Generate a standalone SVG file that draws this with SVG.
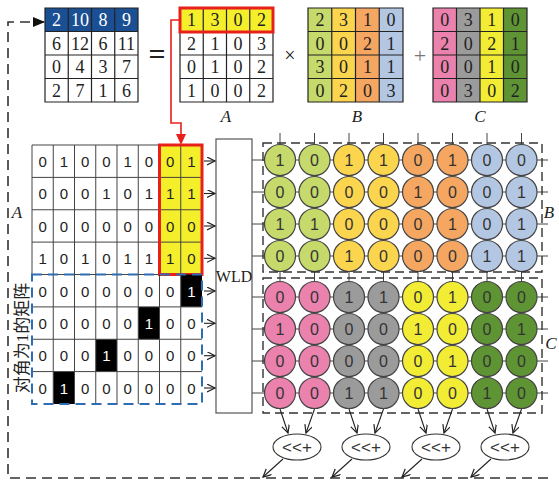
<svg xmlns="http://www.w3.org/2000/svg" width="559" height="484" viewBox="0 0 559 484">
<style>
.cell{fill:none;stroke:#222;stroke-width:1.2}
.ser{font-family:"Liberation Serif","Times New Roman",serif;font-size:18px;fill:#222;text-anchor:middle;dominant-baseline:central}
.lab{font-family:"Liberation Serif","Times New Roman",serif;font-size:17px;font-style:italic;fill:#222;text-anchor:middle;dominant-baseline:central}
.bin{font-family:"Liberation Sans",Arial,sans-serif;font-size:15px;fill:#222;text-anchor:middle;dominant-baseline:central}
.cb{font-family:"Liberation Sans",Arial,sans-serif;font-size:16px;fill:#333;text-anchor:middle;dominant-baseline:central}
.wt{fill:#fff}
.bgrid{fill:none;stroke:#444;stroke-width:1}
.dash{fill:none;stroke:#333;stroke-width:1.6;stroke-dasharray:10 6}
.ln{stroke:#444;stroke-width:1;fill:none}
.arr{stroke:#222;stroke-width:1.1;fill:none;marker-end:url(#open)}
.cir{stroke:#444;stroke-width:1.2}
.g1{fill:#c6d96b}.y1{fill:#fbd54e}.o1{fill:#f5a660}.b1{fill:#b3c7e3}
.p2{fill:#ea82ad}.k2{fill:#9b9b9b}.y2{fill:#f3ec35}.d2{fill:#5f9434}
</style>
<defs>
<marker id="open" markerWidth="10" markerHeight="10" refX="8" refY="4" orient="auto" markerUnits="userSpaceOnUse"><path d="M0,0 L8,4 L0,8" fill="none" stroke="#222" stroke-width="1.2"/></marker>
<marker id="blk" markerWidth="12" markerHeight="10" refX="11" refY="5" orient="auto" markerUnits="userSpaceOnUse"><path d="M0,0 L12,5 L0,10 Z" fill="#111"/></marker>
</defs>
<rect width="559" height="484" fill="#fff"/>

<!-- Result matrix -->
<g id="result">
<rect x="45" y="8" width="93" height="23.5" fill="#1b4f93"/>
<path class="cell" d="M45,8H138V102H45Z M45,31.5H138 M45,55H138 M45,78.5H138 M68.25,8V102 M91.5,8V102 M114.75,8V102"/>
<g class="ser">
<text x="56.6" y="20" class="wt">2</text><text x="79.9" y="20" class="wt">10</text><text x="103.1" y="20" class="wt">8</text><text x="126.4" y="20" class="wt">9</text>
<text x="56.6" y="43.5">6</text><text x="79.9" y="43.5">12</text><text x="103.1" y="43.5">6</text><text x="126.4" y="43.5">11</text>
<text x="56.6" y="67">0</text><text x="79.9" y="67">4</text><text x="103.1" y="67">3</text><text x="126.4" y="67">7</text>
<text x="56.6" y="90.5">2</text><text x="79.9" y="90.5">7</text><text x="103.1" y="90.5">1</text><text x="126.4" y="90.5">6</text>
</g>
</g>
<text class="ser" x="157" y="53" style="font-size:30px;font-weight:bold">=</text>

<!-- Matrix A -->
<g id="matA">
<rect x="180" y="8" width="93" height="24" fill="#f5ee2a"/>
<path class="cell" d="M180,8H273V102H180Z M180,31.5H273 M180,55H273 M180,78.5H273 M203.25,8V102 M226.5,8V102 M249.75,8V102"/>
<rect x="180" y="8" width="93" height="24" fill="none" stroke="#e8201c" stroke-width="3"/>
<g class="ser">
<text x="191.6" y="20">1</text><text x="214.9" y="20">3</text><text x="238.1" y="20">0</text><text x="261.4" y="20">2</text>
<text x="191.6" y="43.5">2</text><text x="214.9" y="43.5">1</text><text x="238.1" y="43.5">0</text><text x="261.4" y="43.5">3</text>
<text x="191.6" y="67">0</text><text x="214.9" y="67">1</text><text x="238.1" y="67">0</text><text x="261.4" y="67">2</text>
<text x="191.6" y="90.5">1</text><text x="214.9" y="90.5">0</text><text x="238.1" y="90.5">0</text><text x="261.4" y="90.5">2</text>
</g>
<text class="lab" x="226" y="116">A</text>
</g>
<text class="ser" x="290" y="55" style="font-size:20px">×</text>

<!-- Matrix B -->
<g id="matB">
<rect x="308" y="8" width="23.75" height="94" class="g1"/>
<rect x="331.75" y="8" width="23.75" height="94" class="y1"/>
<rect x="355.5" y="8" width="23.75" height="94" class="o1"/>
<rect x="379.25" y="8" width="23.75" height="94" class="b1"/>
<path class="cell" d="M308,8H403V102H308Z M308,31.5H403 M308,55H403 M308,78.5H403 M331.75,8V102 M355.5,8V102 M379.25,8V102"/>
<g class="ser">
<text x="319.9" y="20">2</text><text x="343.6" y="20">3</text><text x="367.4" y="20">1</text><text x="391.1" y="20">0</text>
<text x="319.9" y="43.5">0</text><text x="343.6" y="43.5">0</text><text x="367.4" y="43.5">2</text><text x="391.1" y="43.5">1</text>
<text x="319.9" y="67">3</text><text x="343.6" y="67">0</text><text x="367.4" y="67">1</text><text x="391.1" y="67">1</text>
<text x="319.9" y="90.5">0</text><text x="343.6" y="90.5">2</text><text x="367.4" y="90.5">0</text><text x="391.1" y="90.5">3</text>
</g>
<text class="lab" x="357" y="116">B</text>
</g>
<text class="ser" x="420" y="55" style="font-size:22px;fill:#777">+</text>

<!-- Matrix C -->
<g id="matC">
<rect x="433" y="8" width="23.5" height="94" class="p2"/>
<rect x="456.5" y="8" width="23.5" height="94" class="k2"/>
<rect x="480" y="8" width="23.5" height="94" class="y2"/>
<rect x="503.5" y="8" width="23.5" height="94" class="d2"/>
<path class="cell" d="M433,8H527V102H433Z M433,31.5H527 M433,55H527 M433,78.5H527 M456.5,8V102 M480,8V102 M503.5,8V102"/>
<g class="ser">
<text x="444.7" y="20">0</text><text x="468.2" y="20">3</text><text x="491.7" y="20">1</text><text x="515.2" y="20">0</text>
<text x="444.7" y="43.5">2</text><text x="468.2" y="43.5">0</text><text x="491.7" y="43.5">2</text><text x="515.2" y="43.5">1</text>
<text x="444.7" y="67">0</text><text x="468.2" y="67">0</text><text x="491.7" y="67">1</text><text x="515.2" y="67">0</text>
<text x="444.7" y="90.5">0</text><text x="468.2" y="90.5">3</text><text x="491.7" y="90.5">0</text><text x="515.2" y="90.5">2</text>
</g>
<text class="lab" x="480" y="116">C</text>
</g>

<!-- Binary matrix A -->
<g id="binA">
<rect x="159.5" y="145" width="42.5" height="129.5" fill="#f5ee2a"/>
<path class="bgrid" d="M32,145H202V274.5H32Z M32,177.4H202 M32,209.75H202 M32,242.1H202 M53.25,145V274.5 M74.5,145V274.5 M95.75,145V274.5 M117,145V274.5 M138.25,145V274.5 M159.5,145V274.5 M180.75,145V274.5"/>
<g class="bin">
<text x="42.6" y="161">0</text><text x="63.9" y="161">1</text><text x="85.1" y="161">0</text><text x="106.4" y="161">0</text><text x="127.6" y="161">1</text><text x="148.9" y="161">0</text><text x="170.1" y="161">0</text><text x="191.4" y="161">1</text>
<text x="42.6" y="193.5">0</text><text x="63.9" y="193.5">0</text><text x="85.1" y="193.5">0</text><text x="106.4" y="193.5">1</text><text x="127.6" y="193.5">0</text><text x="148.9" y="193.5">1</text><text x="170.1" y="193.5">1</text><text x="191.4" y="193.5">1</text>
<text x="42.6" y="226">0</text><text x="63.9" y="226">0</text><text x="85.1" y="226">0</text><text x="106.4" y="226">0</text><text x="127.6" y="226">0</text><text x="148.9" y="226">0</text><text x="170.1" y="226">0</text><text x="191.4" y="226">0</text>
<text x="42.6" y="258.3">1</text><text x="63.9" y="258.3">0</text><text x="85.1" y="258.3">1</text><text x="106.4" y="258.3">0</text><text x="127.6" y="258.3">1</text><text x="148.9" y="258.3">1</text><text x="170.1" y="258.3">1</text><text x="191.4" y="258.3">0</text>
</g>
<rect x="159.5" y="145" width="42.5" height="129.5" fill="none" stroke="#e8201c" stroke-width="3"/>
<text class="lab" x="17" y="212">A</text>
</g>

<!-- Diagonal matrix -->
<g id="diag">
<rect x="180.75" y="274.5" width="21.25" height="32.4" fill="#000"/>
<rect x="138.25" y="306.9" width="21.25" height="32.35" fill="#000"/>
<rect x="95.75" y="339.25" width="21.25" height="32.35" fill="#000"/>
<rect x="53.25" y="371.6" width="21.25" height="32.4" fill="#000"/>
<path class="bgrid" d="M32,306.9H202 M32,339.25H202 M32,371.6H202 M53.25,274.5V404 M74.5,274.5V404 M95.75,274.5V404 M117,274.5V404 M138.25,274.5V404 M159.5,274.5V404 M180.75,274.5V404"/>
<rect x="32" y="274.5" width="170" height="129.5" fill="none" stroke="#2e6cb4" stroke-width="2" stroke-dasharray="10 6"/>
<g class="bin">
<text x="42.6" y="291">0</text><text x="63.9" y="291">0</text><text x="85.1" y="291">0</text><text x="106.4" y="291">0</text><text x="127.6" y="291">0</text><text x="148.9" y="291">0</text><text x="170.1" y="291">0</text><text x="191.4" y="291" class="wt">1</text>
<text x="42.6" y="323.3">0</text><text x="63.9" y="323.3">0</text><text x="85.1" y="323.3">0</text><text x="106.4" y="323.3">0</text><text x="127.6" y="323.3">0</text><text x="148.9" y="323.3" class="wt">1</text><text x="170.1" y="323.3">0</text><text x="191.4" y="323.3">0</text>
<text x="42.6" y="355.7">0</text><text x="63.9" y="355.7">0</text><text x="85.1" y="355.7">0</text><text x="106.4" y="355.7" class="wt">1</text><text x="127.6" y="355.7">0</text><text x="148.9" y="355.7">0</text><text x="170.1" y="355.7">0</text><text x="191.4" y="355.7">0</text>
<text x="42.6" y="388">0</text><text x="63.9" y="388" class="wt">1</text><text x="85.1" y="388">0</text><text x="106.4" y="388">0</text><text x="127.6" y="388">0</text><text x="148.9" y="388">0</text><text x="170.1" y="388">0</text><text x="191.4" y="388">0</text>
</g>
<text x="22" y="338" transform="rotate(-90 22 338)" style="font-family:'Liberation Serif','Noto Sans CJK SC',serif;font-size:17px;fill:#222;text-anchor:middle;dominant-baseline:central">对角为1的矩阵</text>
</g>

<!-- WLD -->
<g id="wld">
<rect x="216" y="139" width="36" height="274" fill="#fff" stroke="#555" stroke-width="1.2"/>
<text class="ser" x="234" y="276" style="font-size:16px">WLD</text>
</g>

<!-- Circle grid lines -->
<g id="grid-lines" class="ln">
<path d="M252,160H548 M252,192H548 M252,224H548 M252,256H548 M252,297H548 M252,329H548 M252,361H548 M252,393H548"/>
<path d="M280,133V393 M314.5,133V393 M349,133V393 M383.5,133V393 M418,133V393 M452.5,133V393 M487,133V393 M521.5,133V393"/>
</g>

<!-- B circles -->
<g id="circB" class="cir">
<g class="g1"><circle cx="280" cy="160" r="15.5"/><circle cx="314.5" cy="160" r="15.5"/><circle cx="280" cy="192" r="15.5"/><circle cx="314.5" cy="192" r="15.5"/><circle cx="280" cy="224" r="15.5"/><circle cx="314.5" cy="224" r="15.5"/><circle cx="280" cy="256" r="15.5"/><circle cx="314.5" cy="256" r="15.5"/></g>
<g class="y1"><circle cx="349" cy="160" r="15.5"/><circle cx="383.5" cy="160" r="15.5"/><circle cx="349" cy="192" r="15.5"/><circle cx="383.5" cy="192" r="15.5"/><circle cx="349" cy="224" r="15.5"/><circle cx="383.5" cy="224" r="15.5"/><circle cx="349" cy="256" r="15.5"/><circle cx="383.5" cy="256" r="15.5"/></g>
<g class="o1"><circle cx="418" cy="160" r="15.5"/><circle cx="452.5" cy="160" r="15.5"/><circle cx="418" cy="192" r="15.5"/><circle cx="452.5" cy="192" r="15.5"/><circle cx="418" cy="224" r="15.5"/><circle cx="452.5" cy="224" r="15.5"/><circle cx="418" cy="256" r="15.5"/><circle cx="452.5" cy="256" r="15.5"/></g>
<g class="b1"><circle cx="487" cy="160" r="15.5"/><circle cx="521.5" cy="160" r="15.5"/><circle cx="487" cy="192" r="15.5"/><circle cx="521.5" cy="192" r="15.5"/><circle cx="487" cy="224" r="15.5"/><circle cx="521.5" cy="224" r="15.5"/><circle cx="487" cy="256" r="15.5"/><circle cx="521.5" cy="256" r="15.5"/></g>
</g>
<g class="cb">
<text x="280" y="160">1</text><text x="314.5" y="160">0</text><text x="349" y="160">1</text><text x="383.5" y="160">1</text><text x="418" y="160">0</text><text x="452.5" y="160">1</text><text x="487" y="160">0</text><text x="521.5" y="160">0</text>
<text x="280" y="192">0</text><text x="314.5" y="192">0</text><text x="349" y="192">0</text><text x="383.5" y="192">0</text><text x="418" y="192">1</text><text x="452.5" y="192">0</text><text x="487" y="192">0</text><text x="521.5" y="192">1</text>
<text x="280" y="224">1</text><text x="314.5" y="224">1</text><text x="349" y="224">0</text><text x="383.5" y="224">0</text><text x="418" y="224">0</text><text x="452.5" y="224">1</text><text x="487" y="224">0</text><text x="521.5" y="224">1</text>
<text x="280" y="256">0</text><text x="314.5" y="256">0</text><text x="349" y="256">1</text><text x="383.5" y="256">0</text><text x="418" y="256">0</text><text x="452.5" y="256">0</text><text x="487" y="256">1</text><text x="521.5" y="256">1</text>
</g>

<!-- C circles -->
<g id="circC" class="cir">
<g class="p2"><circle cx="280" cy="297" r="15.5"/><circle cx="314.5" cy="297" r="15.5"/><circle cx="280" cy="329" r="15.5"/><circle cx="314.5" cy="329" r="15.5"/><circle cx="280" cy="361" r="15.5"/><circle cx="314.5" cy="361" r="15.5"/><circle cx="280" cy="393" r="15.5"/><circle cx="314.5" cy="393" r="15.5"/></g>
<g class="k2"><circle cx="349" cy="297" r="15.5"/><circle cx="383.5" cy="297" r="15.5"/><circle cx="349" cy="329" r="15.5"/><circle cx="383.5" cy="329" r="15.5"/><circle cx="349" cy="361" r="15.5"/><circle cx="383.5" cy="361" r="15.5"/><circle cx="349" cy="393" r="15.5"/><circle cx="383.5" cy="393" r="15.5"/></g>
<g class="y2"><circle cx="418" cy="297" r="15.5"/><circle cx="452.5" cy="297" r="15.5"/><circle cx="418" cy="329" r="15.5"/><circle cx="452.5" cy="329" r="15.5"/><circle cx="418" cy="361" r="15.5"/><circle cx="452.5" cy="361" r="15.5"/><circle cx="418" cy="393" r="15.5"/><circle cx="452.5" cy="393" r="15.5"/></g>
<g class="d2"><circle cx="487" cy="297" r="15.5"/><circle cx="521.5" cy="297" r="15.5"/><circle cx="487" cy="329" r="15.5"/><circle cx="521.5" cy="329" r="15.5"/><circle cx="487" cy="361" r="15.5"/><circle cx="521.5" cy="361" r="15.5"/><circle cx="487" cy="393" r="15.5"/><circle cx="521.5" cy="393" r="15.5"/></g>
</g>
<g class="cb">
<text x="280" y="297">0</text><text x="314.5" y="297">0</text><text x="349" y="297">1</text><text x="383.5" y="297">1</text><text x="418" y="297">0</text><text x="452.5" y="297">1</text><text x="487" y="297">0</text><text x="521.5" y="297">0</text>
<text x="280" y="329">1</text><text x="314.5" y="329">0</text><text x="349" y="329">0</text><text x="383.5" y="329">0</text><text x="418" y="329">1</text><text x="452.5" y="329">0</text><text x="487" y="329">0</text><text x="521.5" y="329">1</text>
<text x="280" y="361">0</text><text x="314.5" y="361">0</text><text x="349" y="361">0</text><text x="383.5" y="361">0</text><text x="418" y="361">0</text><text x="452.5" y="361">1</text><text x="487" y="361">0</text><text x="521.5" y="361">0</text>
<text x="280" y="393">0</text><text x="314.5" y="393">0</text><text x="349" y="393">1</text><text x="383.5" y="393">1</text><text x="418" y="393">0</text><text x="452.5" y="393">0</text><text x="487" y="393">1</text><text x="521.5" y="393">0</text>
</g>

<!-- dashed boxes -->
<g id="boxB"><rect class="dash" x="263" y="143" width="279" height="129" style="stroke-dasharray:9 5;stroke-width:1.4"/><text class="lab" x="549" y="212">B</text></g>
<g id="boxC"><rect class="dash" x="263" y="278" width="279" height="135" style="stroke-dasharray:9 5;stroke-width:1.4"/><text class="lab" x="551" y="343">C</text></g>

<!-- shift-add nodes -->
<g id="sa1"><ellipse cx="297" cy="447" rx="24" ry="13" fill="#fff" stroke="#333" stroke-width="1.1"/><text class="cb" x="297" y="447" style="font-size:17px">&lt;&lt;+</text></g>
<g id="sa2"><ellipse cx="366" cy="447" rx="24" ry="13" fill="#fff" stroke="#333" stroke-width="1.1"/><text class="cb" x="366" y="447" style="font-size:17px">&lt;&lt;+</text></g>
<g id="sa3"><ellipse cx="436" cy="447" rx="24" ry="13" fill="#fff" stroke="#333" stroke-width="1.1"/><text class="cb" x="436" y="447" style="font-size:17px">&lt;&lt;+</text></g>
<g id="sa4"><ellipse cx="505" cy="447" rx="24" ry="13" fill="#fff" stroke="#333" stroke-width="1.1"/><text class="cb" x="505" y="447" style="font-size:17px">&lt;&lt;+</text></g>

<!-- connectors -->
<g id="connectors">
<path class="dash" d="M548,478H8V22H44" marker-end="url(#blk)"/>
<path d="M179,20H171V123H181V140" fill="none" stroke="#e8201c" stroke-width="1.6"/>
<path d="M176,134H186L181,145Z" fill="#e8201c"/>
<g class="arr">
<line x1="204" y1="161" x2="215" y2="161"/><line x1="204" y1="193.5" x2="215" y2="193.5"/><line x1="204" y1="226" x2="215" y2="226"/><line x1="204" y1="258.3" x2="215" y2="258.3"/>
<line x1="204" y1="291" x2="215" y2="291"/><line x1="204" y1="323.3" x2="215" y2="323.3"/><line x1="204" y1="355.7" x2="215" y2="355.7"/><line x1="204" y1="388" x2="215" y2="388"/>
<line x1="280" y1="409" x2="288" y2="433"/><line x1="314.5" y1="409" x2="306" y2="433"/>
<line x1="349" y1="409" x2="357" y2="433"/><line x1="383.5" y1="409" x2="375" y2="433"/>
<line x1="418" y1="409" x2="426" y2="433"/><line x1="452.5" y1="409" x2="444" y2="433"/>
<line x1="487" y1="409" x2="495" y2="433"/><line x1="521.5" y1="409" x2="513" y2="433"/>
<line x1="283" y1="459" x2="263" y2="477"/><line x1="352" y1="459" x2="332" y2="477"/><line x1="422" y1="459" x2="402" y2="477"/><line x1="491" y1="459" x2="471" y2="477"/>
</g>
</g>
</svg>
